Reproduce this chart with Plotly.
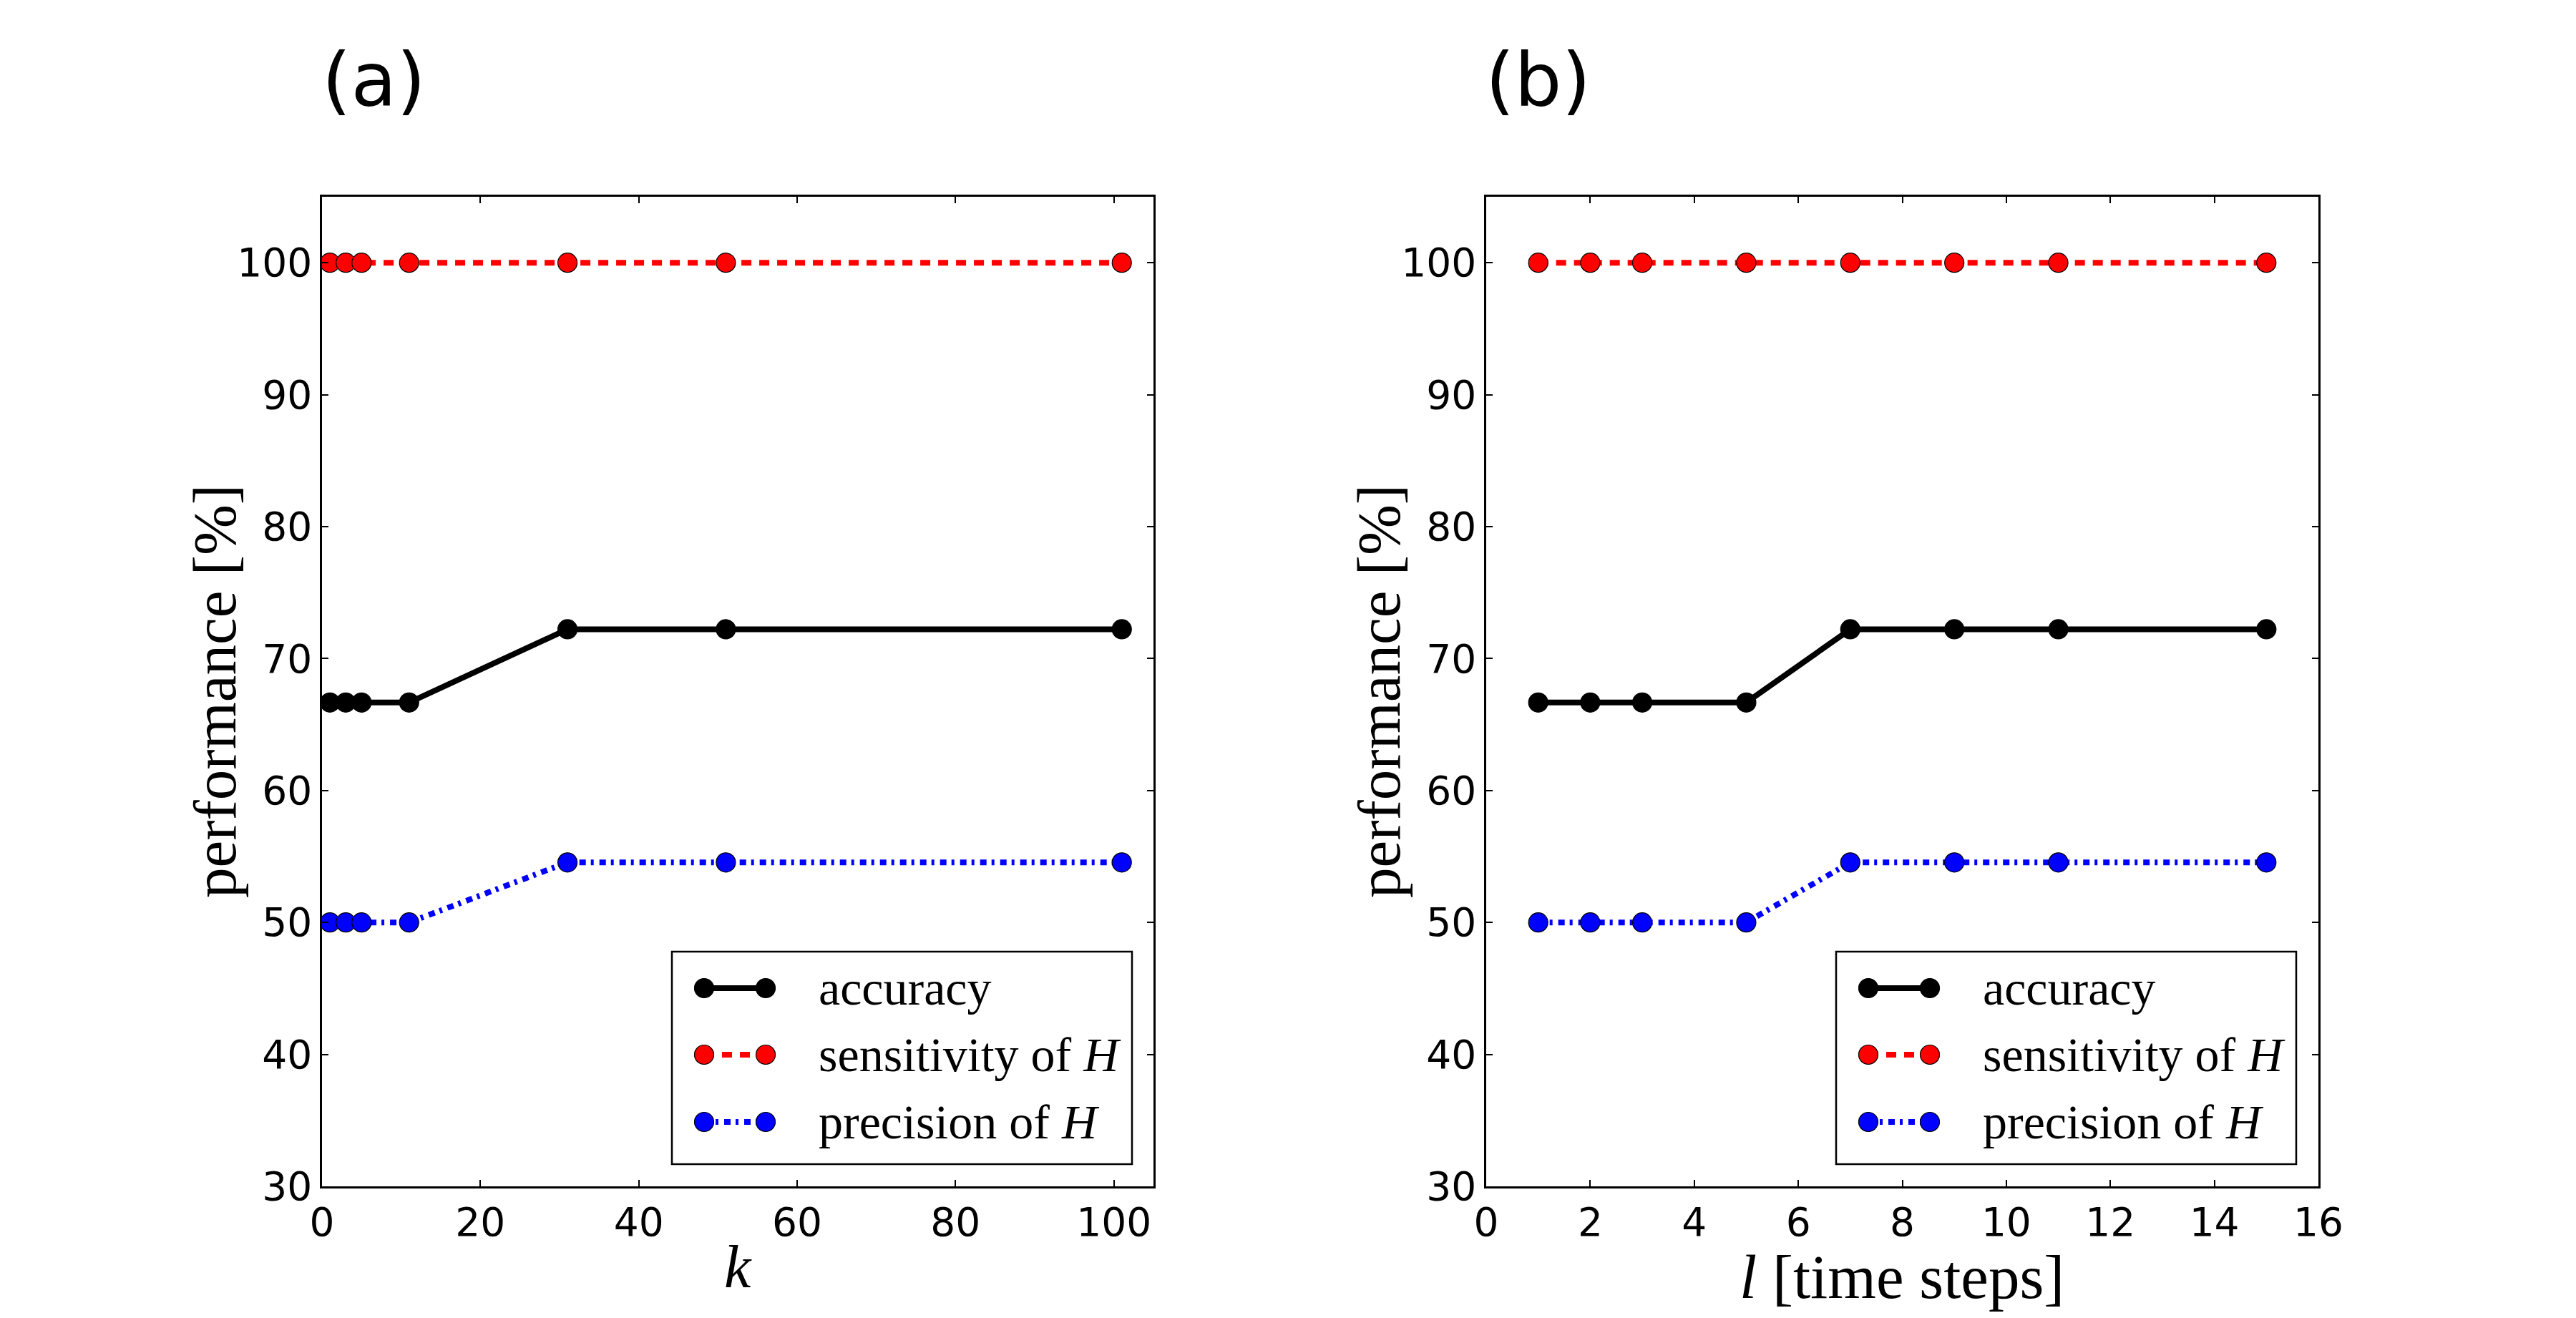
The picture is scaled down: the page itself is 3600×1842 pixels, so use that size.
import plotly.graph_objects as go

# ---- data ----
k_vals = [1, 3, 5, 11, 31, 51, 101]
acc_k = [66.67, 66.67, 66.67, 66.67, 72.22, 72.22, 72.22]
sens_k = [100, 100, 100, 100, 100, 100, 100]
prec_k = [50.0, 50.0, 50.0, 50.0, 54.55, 54.55, 54.55]

l_vals = [1, 2, 3, 5, 7, 9, 11, 15]
acc_l = [66.67, 66.67, 66.67, 66.67, 72.22, 72.22, 72.22, 72.22]
sens_l = [100, 100, 100, 100, 100, 100, 100, 100]
prec_l = [50.0, 50.0, 50.0, 50.0, 54.55, 54.55, 54.55, 54.55]

series_names = ["accuracy", "sensitivity of <i>H</i>", "precision of <i>H</i>"]
panel_labels = ["(a)", "(b)"]
x_titles = ["<i>k</i>", "<i>l</i> [time steps]"]
x_title_sizes = [84, 87]
x_title_y = [1770, 1784]
y_title = "performance [%]"
y_ticks = [30, 40, 50, 60, 70, 80, 90, 100]
xk_ticks = [0, 20, 40, 60, 80, 100]
xl_ticks = [0, 2, 4, 6, 8, 10, 12, 14, 16]

W, H = 3600, 1842
SERIF = "Liberation Serif"
SANS = "DejaVu Sans"

colors = ["black", "red", "blue"]
dashes = ["solid", "14px,11px", "9px,7px,4px,8px"]
LW = 8
MS = 27

fig = go.Figure()


def px(x):
    return x / W


def py(y):
    return 1 - y / H


def add_panel(xs, ys_list, xaxis, yaxis):
    for name, ys, c, d in zip(series_names, ys_list, colors, dashes):
        fig.add_trace(go.Scatter(
            x=xs, y=ys, mode="lines+markers", name=name,
            xaxis=xaxis, yaxis=yaxis, showlegend=False,
            line=dict(color=c, width=LW, dash=d),
            marker=dict(size=MS, color=c, line=dict(color="black", width=1.2)),
        ))


add_panel(k_vals, [acc_k, sens_k, prec_k], "x", "y")
add_panel(l_vals, [acc_l, sens_l, prec_l], "x2", "y2")

axis_common = dict(
    showline=True, linecolor="black", linewidth=2.5, mirror="ticks",
    ticks="inside", ticklen=9, tickwidth=2, tickcolor="black",
    showgrid=False, zeroline=False, automargin=False,
    tickfont=dict(family=SANS, size=55, color="black"),
)

fig.update_layout(
    width=W, height=H,
    margin=dict(l=0, r=0, t=0, b=0, autoexpand=False),
    paper_bgcolor="white", plot_bgcolor="white",
    showlegend=False,
    xaxis=dict(domain=[450 / W, 1612 / W], range=[0, 105], tickvals=xk_ticks, anchor="y", **axis_common),
    yaxis=dict(domain=[py(1658), py(275)], range=[30, 105], tickvals=y_ticks, anchor="x", **axis_common),
    xaxis2=dict(domain=[2077 / W, 3240 / W], range=[0, 16], tickvals=xl_ticks, anchor="y2", **axis_common),
    yaxis2=dict(domain=[py(1658), py(275)], range=[30, 105], tickvals=y_ticks, anchor="x2", **axis_common),
)

shapes = []
ann = []
DX = 2077 - 450

for i in range(2):
    off = DX * i
    # panel label
    ann.append(dict(text=panel_labels[i], x=px(522 + off), y=py(112), xref="paper", yref="paper",
                    xanchor="center", yanchor="middle", showarrow=False,
                    font=dict(family=SANS, size=104, color="black")))
    # y title
    ann.append(dict(text=y_title, x=px(300 + off), y=py(966), xref="paper", yref="paper",
                    xanchor="center", yanchor="middle", textangle=-90, showarrow=False,
                    font=dict(family=SERIF, size=85, color="black")))
    # x title
    ann.append(dict(text=x_titles[i], x=px(1031 + off), y=py(x_title_y[i]), xref="paper", yref="paper",
                    xanchor="center", yanchor="middle", showarrow=False,
                    font=dict(family=SERIF, size=x_title_sizes[i], color="black")))
    # legend box
    shapes.append(dict(type="rect", xref="paper", yref="paper",
                       x0=px(939 + off), x1=px(1582 + off), y0=py(1627), y1=py(1330),
                       line=dict(color="black", width=2.5), fillcolor="white", layer="above"))
    for j, yy in enumerate([1381, 1474, 1568]):
        xa, xb = 984 + off, 1070 + off
        shapes.append(dict(type="line", xref="paper", yref="paper",
                           x0=px(xa), x1=px(xb), y0=py(yy), y1=py(yy),
                           line=dict(color=colors[j], width=LW, dash=dashes[j]), layer="above"))
        for xc in (xa, xb):
            shapes.append(dict(type="circle", xref="paper", yref="paper",
                               x0=px(xc - MS / 2), x1=px(xc + MS / 2),
                               y0=py(yy + MS / 2), y1=py(yy - MS / 2),
                               fillcolor=colors[j], line=dict(color="black", width=1.2), layer="above"))
        ann.append(dict(text=series_names[j], x=px(1142 + off), y=py(yy), xref="paper", yref="paper",
                        xanchor="left", yanchor="middle", showarrow=False,
                        font=dict(family=SERIF, size=68, color="black")))

fig.update_layout(shapes=shapes, annotations=ann)

fig.write_html("out.html")
